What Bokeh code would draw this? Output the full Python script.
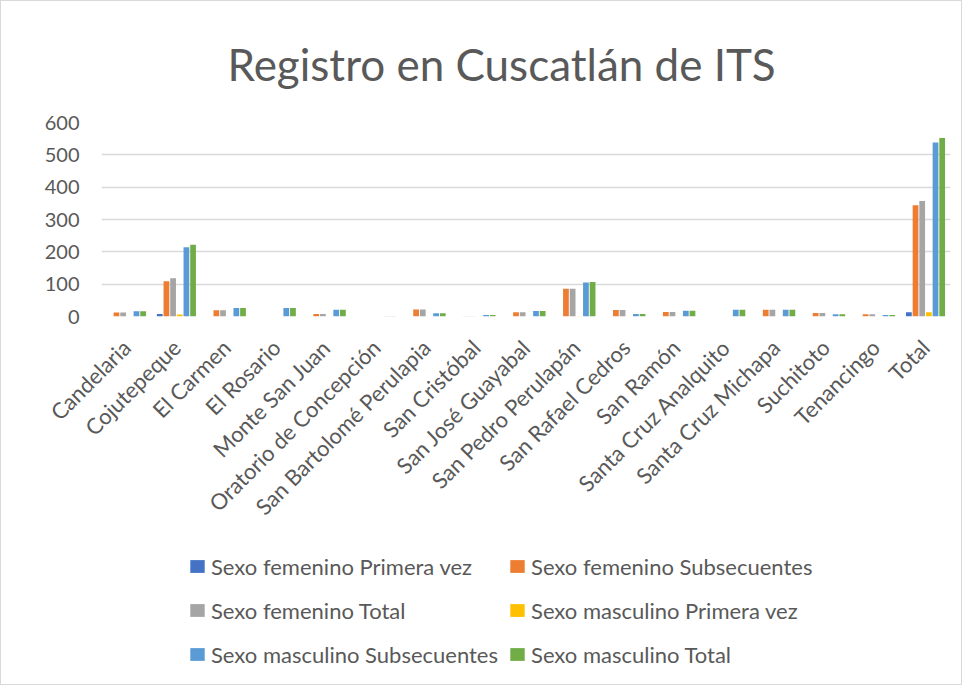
from bokeh.plotting import figure
from bokeh.models import ColumnDataSource, Legend, LegendItem, FixedTicker
from bokeh.layouts import column
from bokeh.transform import dodge
from bokeh.embed import file_html
from bokeh.resources import INLINE
import math

categories = ["Candelaria", "Cojutepeque", "El Carmen", "El Rosario", "Monte San Juan",
              "Oratorio de Concepción", "San Bartolomé Perulapia", "San Cristóbal",
              "San José Guayabal", "San Pedro Perulapán", "San Rafael Cedros", "San Ramón",
              "Santa Cruz Analquito", "Santa Cruz Michapa", "Suchitoto", "Tenancingo", "Total"]

fem_primera = [0, 8, 0, 0, 0, 0, 0, 0, 0, 0, 0, 0, 0, 0, 0, 0, 13]
fem_subsec = [12, 109, 19, 0, 8, 0, 22, 1, 13, 86, 20, 14, 0, 21, 11, 7, 344]
fem_total = [12, 118, 19, 0, 8, 0, 22, 1, 13, 86, 20, 14, 0, 21, 11, 7, 357]
masc_primera = [0, 6, 0, 0, 0, 0, 0, 0, 0, 1, 0, 0, 0, 0, 0, 0, 13]
masc_subsec = [16, 214, 26, 26, 21, 1, 10, 5, 17, 105, 8, 18, 21, 21, 7, 5, 538]
masc_total = [16, 222, 26, 26, 21, 1, 10, 5, 17, 107, 8, 18, 21, 21, 7, 5, 552]

series_names = ["Sexo femenino Primera vez", "Sexo femenino Subsecuentes", "Sexo femenino Total",
                "Sexo masculino Primera vez", "Sexo masculino Subsecuentes", "Sexo masculino Total"]
series_values = [fem_primera, fem_subsec, fem_total, masc_primera, masc_subsec, masc_total]
colors = ["#4472C4", "#ED7D31", "#A5A5A5", "#FFC000", "#5B9BD5", "#70AD47"]
y_ticks = [0, 100, 200, 300, 400, 500, 600]

FONT = "Lato"
TXT = "#595959"

data = {"cat": categories}
for i, v in enumerate(series_values):
    data[f"s{i}"] = v
source = ColumnDataSource(data)

# main chart
p = figure(x_range=categories, y_range=(0, 600), output_backend="svg", toolbar_location=None,
           frame_width=849, frame_height=194,
           min_border_left=100, min_border_right=11, min_border_top=121, min_border_bottom=236,
           title="Registro en Cuscatlán de ITS")

pitch = 0.1334
for i in range(6):
    p.vbar(x=dodge("cat", (i - 2.5) * pitch, range=p.x_range), top=f"s{i}", width=0.115,
           source=source, fill_color=colors[i], line_color=None)

p.title.text_font = FONT
p.title.text_font_size = "44px"
p.title.text_font_style = "normal"
p.title.text_color = TXT
p.title.align = "left"
p.title.offset = 126
p.title.standoff = 65

p.outline_line_color = None
p.background_fill_color = "white"
p.border_fill_color = "white"

p.xgrid.grid_line_color = None
p.ygrid.grid_line_color = "#d9d9d9"
p.ygrid.grid_line_width = 1.3

p.yaxis.ticker = FixedTicker(ticks=y_ticks)
p.yaxis.axis_line_color = None
p.yaxis.major_tick_line_color = None
p.yaxis.minor_tick_line_color = None
p.yaxis.major_tick_out = 0
p.yaxis.major_label_standoff = 22
p.yaxis.major_label_text_font = FONT
p.yaxis.major_label_text_font_size = "20px"
p.yaxis.major_label_text_color = TXT

p.xaxis.axis_line_color = None
p.xaxis.major_tick_line_color = None
p.xaxis.major_tick_out = 0
p.xaxis.major_label_orientation = math.pi / 4
p.xaxis.major_label_standoff = 27
p.xaxis.major_label_text_font = FONT
p.xaxis.major_label_text_font_size = "22px"
p.xaxis.major_label_text_color = TXT

# legend panel below the chart (bars here fall outside its visible y range)
leg = figure(x_range=categories, y_range=(1000, 2000), width=960, height=132,
             output_backend="svg", toolbar_location=None, min_border=0)
leg.axis.visible = False
leg.grid.grid_line_color = None
leg.outline_line_color = None
leg_renderers = [leg.vbar(x=dodge("cat", (i - 2.5) * pitch, range=leg.x_range), top=f"s{i}",
                          width=0.115, source=source, fill_color=colors[i], line_color=None)
                 for i in range(6)]
items = [LegendItem(label=series_names[i], renderers=[leg_renderers[i]]) for i in range(6)]
legend = Legend(items=items, location=(87, 13), orientation="horizontal", ncols=2,
                label_text_font=FONT, label_text_font_size="22px", label_text_color=TXT,
                glyph_width=18, glyph_height=16, label_standoff=5, spacing=10, label_height=34,
                padding=0, margin=0, border_line_color=None, background_fill_alpha=0)
leg.add_layout(legend, "center")

layout = column(p, leg, spacing=0)
layout.styles = {"border": "1px solid #d9d9d9"}

open("out.html", "w").write(file_html(layout, INLINE))
